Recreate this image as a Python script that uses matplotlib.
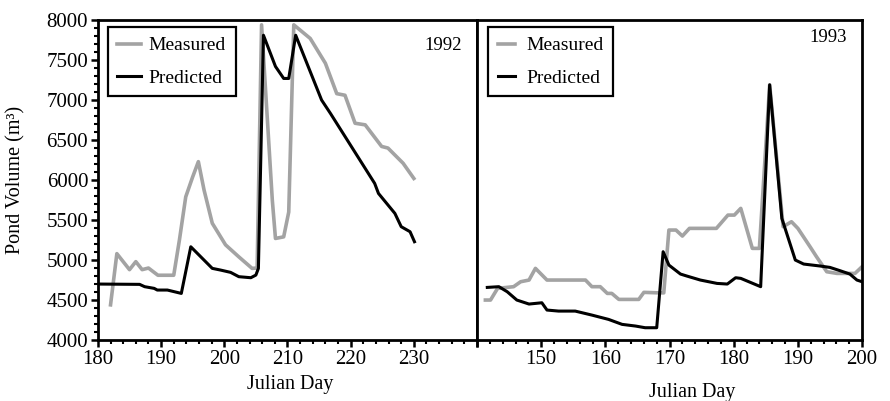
import matplotlib
matplotlib.use('Agg')
import matplotlib.pyplot as plt
from matplotlib.ticker import MultipleLocator

plt.rcParams['font.family'] = ['Liberation Serif', 'DejaVu Serif']

# 1992 data
m92_day = [182, 183, 185, 186, 187, 188, 189.5, 192, 192.9, 193.9, 195, 195.9, 196.8, 198.1, 200.2,
           202.3, 204.4, 205.2, 205.9, 207.6, 208.1, 209.4, 210.2, 211, 213.6, 216, 217.8, 219.1,
           220.7, 222.3, 224.9, 225.9, 228.3, 230]
m92_vol = [4440, 5080, 4880, 4980, 4880, 4900, 4810, 4810, 5250, 5790, 6040, 6230, 5875, 5460, 5190,
           5040, 4896, 4900, 7940, 5750, 5270, 5290, 5600, 7940, 7770, 7460, 7080, 7060,
           6710, 6690, 6420, 6400, 6210, 6020]

p92_day = [180, 186.6, 187.4, 188.9, 189.4, 191, 193.2, 194.7, 198.1, 199.4, 201, 202.3, 204.2, 205,
           205.4, 206.2, 208.1, 209.4, 210.2, 211.3, 215.4, 216.8, 223.8, 224.4, 227, 228, 229.4, 230.1]
p92_vol = [4700, 4696, 4667, 4646, 4625, 4625, 4583, 5166, 4896, 4875, 4846, 4792, 4779, 4812,
           4896, 7810, 7420, 7270, 7270, 7810, 7000, 6833, 5958, 5833, 5583, 5417, 5354, 5229]

# 1993 data
m93_day = [141.3, 142.1, 143.2, 145.7, 146.8, 148.1, 149.1, 150.9, 156.9, 157.9, 159.2, 160.3, 161,
           162.1, 165.2, 166, 168.3, 169.1, 169.9, 171, 172, 173.1, 177.3, 179.1, 180.1, 181.1,
           182.9, 184, 185.6, 187.7, 189, 190, 191.9, 192.9, 194.5, 196.1, 198.9, 200]
m93_vol = [4500, 4500, 4646, 4667, 4729, 4750, 4896, 4750, 4750, 4667, 4667, 4583, 4583,
           4508, 4508, 4596, 4590, 4590, 5375, 5375, 5300, 5396, 5396, 5562, 5562, 5646,
           5146, 5146, 7190, 5417, 5479, 5396, 5166, 5042, 4854, 4833, 4833, 4917]

p93_day = [141.6, 143.4, 144.7, 146.2, 148.1, 150.1, 150.9, 152.7, 155.3, 157.9, 160.5, 162.6, 164.7,
           166.2, 168, 169, 169.9, 171.7, 172.7, 174.8, 177.4, 179, 180.3, 181.1, 184.2, 185.6,
           187.5, 189.6, 190.9, 193.5, 195, 196.6, 198.1, 199.2, 200]
p93_vol = [4658, 4667, 4604, 4500, 4450, 4466, 4375, 4362, 4362, 4312, 4258, 4196, 4175,
           4154, 4154, 5104, 4937, 4825, 4800, 4750, 4708, 4700, 4779, 4771, 4667, 7190,
           5521, 5000, 4950, 4925, 4908, 4866, 4825, 4750, 4729]

left_ticks = [180, 190, 200, 210, 220, 230, 240]
left_labels = ['180', '190', '200', '210', '220', '230', '']
right_ticks = [140, 150, 160, 170, 180, 190, 200]
right_labels = ['', '150', '160', '170', '180', '190', '200']

gray = '#a3a3a3'

fig = plt.figure(figsize=(8.9, 4.01), dpi=100)
ax1 = fig.add_axes([0.110, 0.152, 0.426, 0.798])
ax2 = fig.add_axes([0.536, 0.152, 0.4326, 0.798])

def style(ax):
    for s in ax.spines.values():
        s.set_linewidth(2)
    ax.tick_params(which='major', direction='out', length=5, width=1.8, labelsize=15, pad=2)
    ax.tick_params(which='minor', direction='out', length=3, width=1.5)
    ax.xaxis.set_minor_locator(MultipleLocator(2))

# 1992 panel
ax1.plot(m92_day, m92_vol, color=gray, lw=2.6, label='Measured')
ax1.plot(p92_day, p92_vol, color='black', lw=2.2, label='Predicted')
ax1.set_xlim(180, 240)
ax1.set_ylim(4000, 8000)
ax1.set_xticks(left_ticks)
ax1.set_xticklabels(left_labels)
ax1.set_yticks(range(4000, 8001, 500))
ax1.yaxis.set_minor_locator(MultipleLocator(100))
style(ax1)
ax1.set_ylabel('Pond Volume (m³)', fontsize=14.5)
ax1.yaxis.set_label_coords(-0.19, 0.5)
ax1.set_xlabel('Julian Day', fontsize=14.5)
ax1.xaxis.set_label_coords(0.507, -0.11)
ax1.text(0.96, 0.92, '1992', transform=ax1.transAxes, ha='right', va='center', fontsize=13.5)
leg1 = ax1.legend(loc='upper left', bbox_to_anchor=(0.026, 0.978), borderaxespad=0,
                  fontsize=14, handlelength=1.2, labelspacing=0.75, fancybox=False,
                  framealpha=1, edgecolor='black', handletextpad=0.4, borderpad=0.5)
leg1.get_frame().set_linewidth(1.6)

# 1993 panel
ax2.plot(m93_day, m93_vol, color=gray, lw=2.6, label='Measured')
ax2.plot(p93_day, p93_vol, color='black', lw=2.2, label='Predicted')
ax2.set_xlim(140, 200)
ax2.set_ylim(4000, 8000)
ax2.set_xticks(right_ticks)
ax2.set_xticklabels(right_labels)
ax2.set_yticks([])
style(ax2)
ax2.set_xlabel('Julian Day', fontsize=14.5)
ax2.xaxis.set_label_coords(0.56, -0.134)
ax2.text(0.961, 0.947, '1993', transform=ax2.transAxes, ha='right', va='center', fontsize=13.5)
leg2 = ax2.legend(loc='upper left', bbox_to_anchor=(0.029, 0.978), borderaxespad=0,
                  fontsize=14, handlelength=0.9, labelspacing=0.75, fancybox=False,
                  framealpha=1, edgecolor='black', handletextpad=0.55, borderpad=0.5)
leg2.get_frame().set_linewidth(1.6)

plt.savefig('out.png', dpi=100)
